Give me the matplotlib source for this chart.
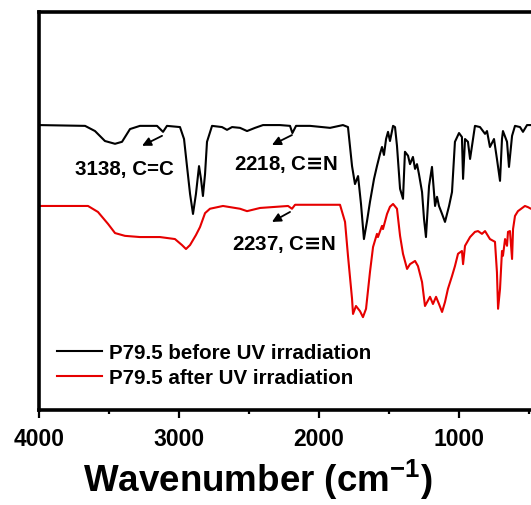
import matplotlib
matplotlib.use('Agg')
import matplotlib.pyplot as plt

plt.rcParams['font.family'] = ['Liberation Sans', 'DejaVu Sans']
plt.rcParams['font.weight'] = 'bold'
plt.rcParams['mathtext.fontset'] = 'custom'
plt.rcParams['mathtext.rm'] = 'Liberation Sans:bold'
plt.rcParams['mathtext.bf'] = 'Liberation Sans:bold'
plt.rcParams['mathtext.sf'] = 'DejaVu Sans:bold'
plt.rcParams['mathtext.default'] = 'bf'

# before UV (black), wavenumber in cm-1, transmittance in a.u.
wn_before = [4000, 3671, 3600, 3529, 3457, 3407, 3350, 3279, 3157, 3114, 3086, 2993,
             2964, 2943, 2921, 2900, 2879, 2857, 2843, 2829, 2814, 2800, 2764, 2693,
             2657, 2621, 2564, 2514, 2457, 2400, 2279, 2207, 2190, 2164, 2064, 1921,
             1829, 1793, 1764, 1743, 1721, 1700, 1679, 1657, 1636, 1607, 1586, 1564,
             1550, 1536, 1521, 1507, 1493, 1471, 1457, 1443, 1421, 1400, 1386, 1364,
             1350, 1329, 1314, 1300, 1286, 1264, 1250, 1236, 1214, 1193, 1171, 1157,
             1143, 1121, 1100, 1071, 1050, 1029, 1000, 979, 971, 957, 936, 921, 907,
             886, 850, 814, 800, 779, 750, 729, 707, 693, 686, 657, 643, 621, 600,
             564, 543, 514, 486, 400]
t_before = [71.5, 71.3, 70.0, 67.5, 66.8, 67.3, 70.5, 71.3, 71.3, 69.8, 71.3, 71.0,
            68.0, 61.2, 54.2, 49.2, 54.2, 61.2, 58.0, 53.7, 59.2, 67.3, 71.3, 71.0,
            70.3, 71.0, 70.8, 70.0, 70.8, 71.5, 71.5, 71.3, 69.5, 71.3, 71.3, 70.8,
            71.5, 71.0, 61.2, 56.7, 58.7, 51.7, 42.9, 47.4, 52.2, 58.0, 61.2, 64.3,
            66.0, 64.0, 68.0, 69.8, 67.5, 71.3, 71.0, 66.3, 55.5, 53.0, 64.8, 63.8,
            61.7, 63.5, 60.5, 61.7, 59.2, 54.7, 48.0, 43.4, 56.2, 61.0, 51.2, 53.5,
            51.2, 49.2, 47.2, 51.2, 54.7, 67.3, 69.5, 68.5, 58.0, 68.0, 67.3, 63.0, 66.3,
            71.3, 71.0, 69.3, 70.0, 66.0, 68.0, 63.0, 57.5, 68.0, 70.0, 67.3, 61.0, 68.8, 71.3,
            71.0, 69.8, 71.5, 71.5, 71.5]

# after UV (red)
wn_after = [4000, 3850, 3650, 3579, 3507, 3457, 3386, 3279, 3136, 3029, 2979, 2950,
            2921, 2879, 2850, 2814, 2779, 2686, 2564, 2514, 2421, 2221, 2193, 2171,
            1993, 1850, 1814, 1793, 1764, 1757, 1736, 1707, 1686, 1664, 1636, 1614,
            1586, 1579, 1550, 1543, 1514, 1493, 1471, 1443, 1421, 1400, 1371, 1350,
            1314, 1293, 1264, 1243, 1207, 1186, 1164, 1143, 1121, 1100, 1079, 1050,
            1029, 1007, 979, 971, 957, 921, 886, 864, 836, 814, 779, 743, 729, 721,
            707, 693, 686, 671, 657, 650, 636, 621, 614, 600, 579, 529, 507, 486, 400]
t_after = [51.2, 51.2, 51.2, 49.7, 46.7, 44.4, 43.7, 43.4, 43.4, 42.9, 41.4, 40.4,
           41.4, 43.9, 45.9, 49.4, 50.5, 51.2, 50.5, 49.9, 50.7, 51.2, 50.5, 51.5,
           51.5, 51.5, 47.2, 38.7, 27.9, 24.1, 26.1, 24.8, 23.3, 25.4, 34.6, 40.9,
           44.2, 43.4, 46.2, 45.4, 49.2, 51.0, 51.7, 50.5, 43.7, 39.2, 35.4, 36.6,
           37.4, 36.1, 32.1, 26.1, 28.4, 26.6, 28.4, 26.6, 24.6, 27.1, 30.4, 33.6,
           36.1, 39.2, 39.9, 36.6, 41.2, 43.4, 44.7, 44.9, 44.2, 44.9, 42.9, 42.2, 34.6, 25.4,
           30.4, 39.9, 38.7, 42.9, 41.2, 44.7, 44.9, 37.9, 45.4, 48.7, 49.9, 51.2, 50.9, 50.5, 50.5]

labels = ['P79.5 before UV irradiation', 'P79.5 after UV irradiation']
notes = ['3138, C=C', '2218, C$\\mathsf{\u2261}$N', '2237, C$\\mathsf{\u2261}$N']

fig = plt.figure(figsize=(5.31, 5.06), dpi=100)
ax = fig.add_axes([39 / 531, 95 / 506, 504 / 531, 398.5 / 506])

ax.plot(wn_before, t_before, color='black', lw=1.5, label=labels[0])
ax.plot(wn_after, t_after, color='#e60000', lw=1.5, label=labels[1])

ax.set_xlim(4000, 400)
ax.set_ylim(0, 100)
ax.set_xticks([4000, 3000, 2000, 1000])
ax.set_xticks([3500, 2500, 1500, 500], minor=True)
ax.set_yticks([])
ax.tick_params(axis='x', which='major', direction='out', length=6, width=1.6,
               labelsize=16.5, pad=6.5)
ax.tick_params(axis='x', which='minor', direction='out', length=3, width=1.6)
for s in ax.spines.values():
    s.set_linewidth(2.6)

ax.set_xlabel('Wavenumber (cm$^{-1}$)', fontsize=26.5, fontweight='bold')
ax.xaxis.set_label_coords(0.4345, -0.203)
ax.xaxis.label.set_va('baseline')

# annotations
arw = dict(arrowstyle='-|>', color='black', lw=1.3, mutation_scale=13,
           shrinkA=0, shrinkB=0)
ax.annotate('', xy=(3264, 66.3), xytext=(3121, 68.8), arrowprops=arw)
ax.annotate('', xy=(2336, 66.5), xytext=(2193, 69.0), arrowprops=arw)
ax.annotate('', xy=(2336, 47.2), xytext=(2207, 49.7), arrowprops=arw)
ax.text(3393, 60.6, notes[0], ha='center', va='center', fontsize=14.8, fontweight='bold')
ax.text(2232, 61.8, notes[1], ha='center', va='center', fontsize=14.8, fontweight='bold')
ax.text(2250, 41.8, notes[2], ha='center', va='center', fontsize=14.8, fontweight='bold')

ax.legend(loc='upper left', bbox_to_anchor=(0.0357, 0.168), frameon=False,
          handlelength=2.2, handletextpad=0.35, labelspacing=0.3,
          borderpad=0, borderaxespad=0, prop={'weight': 'bold', 'size': 14.8})

fig.savefig('out.png', dpi=100)
